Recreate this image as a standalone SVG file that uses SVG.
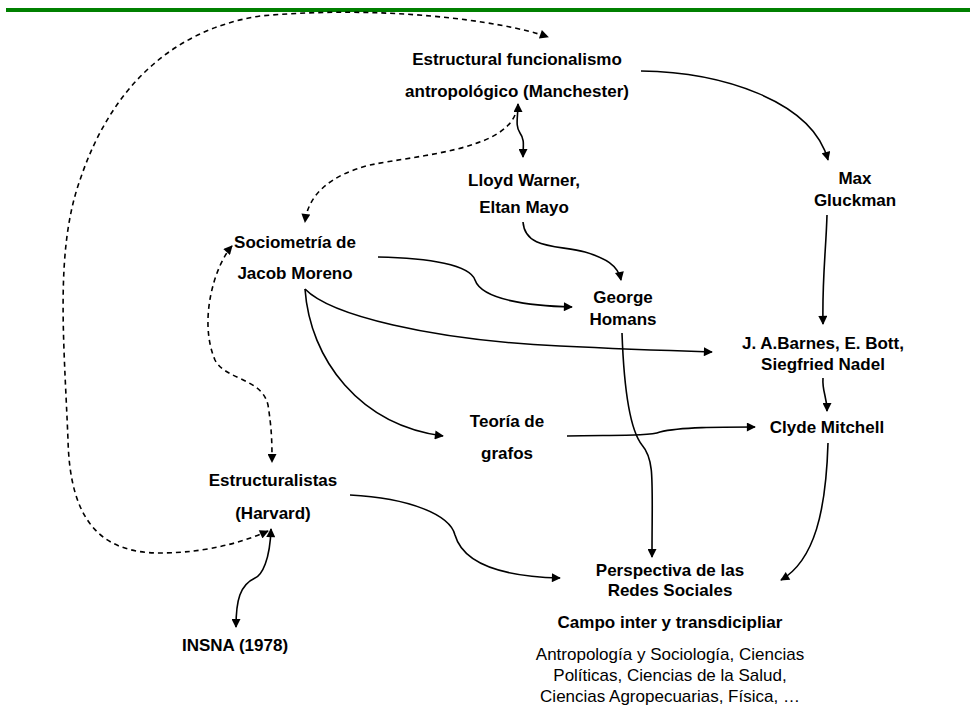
<svg xmlns="http://www.w3.org/2000/svg" width="970" height="709" viewBox="0 0 970 709">
  <style>
    text { font-family: "Liberation Sans", Arial, sans-serif; font-size: 17px; fill: #000; text-anchor: middle; }
    .b { font-weight: bold; }
    .link { fill: none; stroke: #000; stroke-width: 1.6; }
    .dash { stroke-dasharray: 5 4; }
  </style>
  <defs>
    <marker id="arr" viewBox="0 0 10 10" refX="9" refY="5" markerUnits="userSpaceOnUse" markerWidth="10" markerHeight="9" orient="auto-start-reverse">
      <path d="M0,0 L10,5 L0,10 z" fill="#000"/>
    </marker>
  </defs>

  <rect x="6" y="8" width="964" height="4" fill="#008000"/>

  <g id="connectors">
    <!-- solid -->
    <path class="link" d="M641,71 C720,72 812,100 828,160" marker-end="url(#arr)"/>
    <path class="link" d="M827,215 C826,250 822,280 823,324" marker-end="url(#arr)"/>
    <path class="link" d="M823,378 C822,392 827,396 827,411" marker-end="url(#arr)"/>
    <path class="link" d="M828,443 C826,510 815,560 781,580" marker-end="url(#arr)"/>
    <path class="link" d="M518,104 C518,117 515,126 520,133 C525,140 523,146 523,157" marker-start="url(#arr)" marker-end="url(#arr)"/>
    <path class="link" d="M523,222 C525,250 560,245 585,252 C605,258 618,265 621,280" marker-end="url(#arr)"/>
    <path class="link" d="M378,257 C430,258 470,265 475,280 C482,300 530,306 572,307" marker-end="url(#arr)"/>
    <path class="link" d="M305,289 C330,315 430,340 560,346 C620,349 680,351 712,352" marker-end="url(#arr)"/>
    <path class="link" d="M305,289 C310,360 360,425 443,436" marker-end="url(#arr)"/>
    <path class="link" d="M567,436 C620,435 650,436 660,432 C680,427 720,427 755,427" marker-end="url(#arr)"/>
    <path class="link" d="M622,333 C624,390 630,430 642,445 C655,460 652,480 652,557" marker-end="url(#arr)"/>
    <path class="link" d="M350,495 C410,498 450,515 455,535 C465,570 520,577 560,578" marker-end="url(#arr)"/>
    <path class="link" d="M271,529 C270,560 262,575 255,578 C240,585 236,600 236,627" marker-start="url(#arr)" marker-end="url(#arr)"/>
    <!-- dashed -->
    <path class="link dash" d="M515,115 C500,150 420,155 370,165 C330,175 308,195 305,222" marker-end="url(#arr)"/>
    <path class="link dash" d="M232,246 C215,265 198,320 215,360 C225,380 262,378 268,405 C272,430 272,445 272,462" marker-start="url(#arr)" marker-end="url(#arr)"/>
    <path class="link dash" d="M268,531 C230,548 190,553 160,553 C100,553 70,520 68,440 C64,340 55,250 80,180 C110,90 170,30 260,16 C380,5 500,20 548,37" marker-start="url(#arr)" marker-end="url(#arr)"/>
  </g>

  <g id="manchester"><text class="b" x="517" y="65">Estructural funcionalismo</text><text class="b" x="517" y="97">antropológico (Manchester)</text></g>
  <g id="warner"><text class="b" x="524" y="186">Lloyd Warner,</text><text class="b" x="524" y="213">Eltan Mayo</text></g>
  <g id="gluckman"><text class="b" x="855" y="184">Max</text><text class="b" x="855" y="206">Gluckman</text></g>
  <g id="moreno"><text class="b" x="295" y="248">Sociometría de</text><text class="b" x="295" y="279">Jacob Moreno</text></g>
  <g id="homans"><text class="b" x="623" y="303">George</text><text class="b" x="623" y="325">Homans</text></g>
  <g id="barnes"><text class="b" x="823" y="349">J. A.Barnes, E. Bott,</text><text class="b" x="823" y="370">Siegfried Nadel</text></g>
  <g id="grafos"><text class="b" x="507" y="427">Teoría de</text><text class="b" x="507" y="459">grafos</text></g>
  <g id="mitchell"><text class="b" x="827" y="433">Clyde Mitchell</text></g>
  <g id="harvard"><text class="b" x="273" y="486">Estructuralistas</text><text class="b" x="273" y="519">(Harvard)</text></g>
  <g id="insna"><text class="b" x="235" y="651">INSNA (1978)</text></g>
  <g id="redes">
    <text class="b" x="670" y="576">Perspectiva de las</text>
    <text class="b" x="670" y="596">Redes Sociales</text>
    <text class="b" x="670" y="628">Campo inter y transdicipliar</text>
    <text x="670" y="660">Antropología y Sociología, Ciencias</text>
    <text x="670" y="681">Políticas, Ciencias de la Salud,</text>
    <text x="670" y="702">Ciencias Agropecuarias, Física, …</text>
  </g>
</svg>
